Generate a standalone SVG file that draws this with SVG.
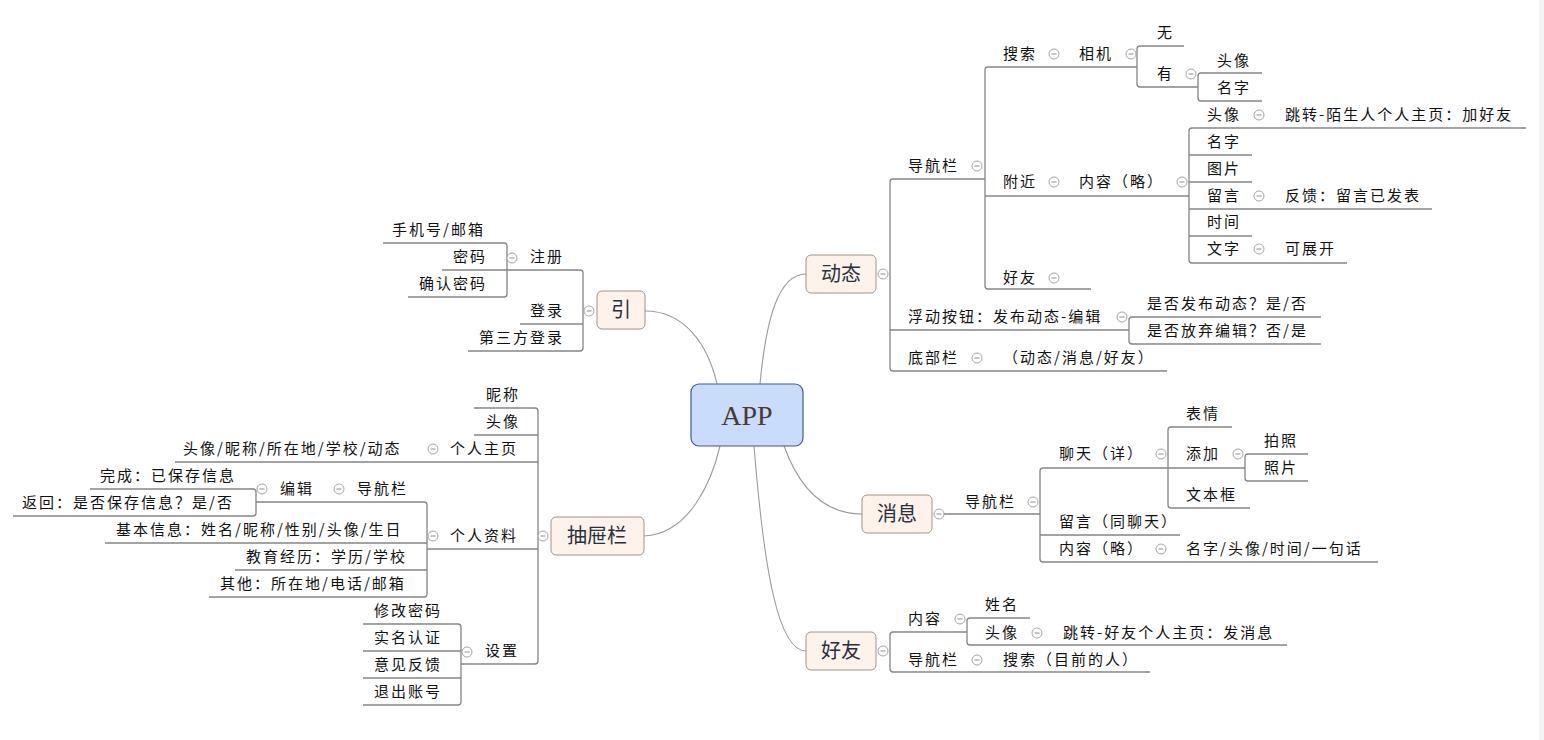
<svg xmlns="http://www.w3.org/2000/svg" xmlns:xlink="http://www.w3.org/1999/xlink" width="1544" height="740" viewBox="0 0 1544 740">
<style>
  .t { font-family: "Noto Sans CJK SC", "Liberation Sans", sans-serif; font-size: 15px; letter-spacing: 2px; fill: #111; }
  .k { font-family: "Noto Sans CJK SC", "Liberation Sans", sans-serif; font-size: 20px; fill: #2a2f3f; text-anchor: middle; }
  .root { font-family: "Liberation Serif", "Noto Sans CJK SC", serif; font-size: 28px; fill: #4a3a32; text-anchor: middle; }
  .box { fill: #fdf3ea; stroke: #a09486; stroke-width: 1; }
  .ln { fill: none; stroke: #858585; stroke-width: 1.3; }
  .cv { fill: none; stroke: #9a9a9a; stroke-width: 1.1; }
</style>
<defs>
  <g id="col">
    <circle r="5" fill="#fff" stroke="#a4a4a4" stroke-width="1"/>
    <path d="M-2.5,0H2.5" stroke="#8c8c8c" stroke-width="1"/>
  </g>
</defs>
<rect width="1544" height="740" fill="#fff"/>
<rect x="1539" y="0" width="5" height="740" fill="#f3f3f3"/>

<!-- connectors -->
<g id="connectors">
  <!-- curves from the root -->
  <path class="cv" d="M645,311 C685,311 708,345 717,384"/>
  <path class="cv" d="M760,384 C766,320 778,274 806,274"/>
  <path class="cv" d="M644,536 C690,534 712,480 720,446"/>
  <path class="cv" d="M784,446 C800,490 825,514 862,514"/>
  <path class="cv" d="M754,446 C764,570 778,651 806,651"/>

  <!-- 引 -->
  <path class="ln" d="M442,270 H580 Q583,270 583,273 V348 Q583,351 580,351 H468"/>
  <path class="ln" d="M583,324 H520"/>
  <path class="ln" d="M383,243 H504 Q507,243 507,246 V294 Q507,297 504,297 H408"/>

  <!-- 抽屉栏 -->
  <path class="ln" d="M474,408 H535 Q538,408 538,411 V661 Q538,664 535,664 H461"/>
  <path class="ln" d="M538,435 H474"/>
  <path class="ln" d="M538,462 H175"/>
  <path class="ln" d="M538,549 H427"/>
  <path class="ln" d="M256,502 H424 Q427,502 427,505 V594 Q427,597 424,597 H209"/>
  <path class="ln" d="M427,543 H105"/>
  <path class="ln" d="M427,570 H235"/>
  <path class="ln" d="M90,489 H253 Q256,489 256,492 V513 Q256,516 253,516 H13"/>
  <path class="ln" d="M363,624 H458 Q461,624 461,627 V702 Q461,705 458,705 H363"/>
  <path class="ln" d="M461,651 H363"/>
  <path class="ln" d="M461,678 H363"/>

  <!-- 动态 -->
  <path class="ln" d="M985,179 H893 Q890,179 890,182 V368 Q890,371 893,371 H1167"/>
  <path class="ln" d="M890,330 H1129"/>
  <path class="ln" d="M1137,67 H988 Q985,67 985,70 V286 Q985,289 988,289 H1091"/>
  <path class="ln" d="M985,196 H1189"/>
  <path class="ln" d="M1184,46 H1140 Q1137,46 1137,49 V84 Q1137,87 1140,87 H1198"/>
  <path class="ln" d="M1262,73 H1201 Q1198,73 1198,76 V98 Q1198,101 1201,101 H1262"/>
  <path class="ln" d="M1526,128 H1192 Q1189,128 1189,131 V260 Q1189,263 1192,263 H1347"/>
  <path class="ln" d="M1189,155 H1252"/>
  <path class="ln" d="M1189,182 H1252"/>
  <path class="ln" d="M1189,209 H1432"/>
  <path class="ln" d="M1189,236 H1252"/>
  <path class="ln" d="M1321,317 H1132 Q1129,317 1129,320 V341 Q1129,344 1132,344 H1321"/>

  <!-- 消息 -->
  <path class="ln" d="M944,514 H1040"/>
  <path class="ln" d="M1168,468 H1043 Q1040,468 1040,471 V559 Q1040,562 1043,562 H1378"/>
  <path class="ln" d="M1040,535 H1180"/>
  <path class="ln" d="M1232,427 H1171 Q1168,427 1168,430 V505 Q1168,508 1171,508 H1250"/>
  <path class="ln" d="M1168,468 H1245"/>
  <path class="ln" d="M1308,454 H1248 Q1245,454 1245,457 V478 Q1245,481 1248,481 H1308"/>

  <!-- 好友 -->
  <path class="ln" d="M967,632 H893 Q890,632 890,635 V669 Q890,672 893,672 H1150"/>
  <path class="ln" d="M1030,618 H970 Q967,618 967,621 V642 Q967,645 970,645 H1287"/>
</g>

<!-- root -->
<g id="app">
  <rect x="691" y="384" width="112" height="62" rx="8" fill="#c9dcfb" stroke="#3d5a92" stroke-width="1.2"/>
  <text class="root" x="747" y="425">APP</text>
</g>

<!-- 引 -->
<g id="yin">
  <rect class="box" x="597" y="291" width="48" height="38" rx="5"/>
  <text class="k" x="621" y="317">引</text>
  <use href="#col" x="589" y="311"/>
</g>
<g id="yin-register">
  <text class="t" x="530" y="262">注册</text>
  <use href="#col" x="512" y="258"/>
</g>
<g id="yin-register-account"><text class="t" x="392" y="235">手机号/邮箱</text></g>
<g id="yin-register-pwd"><text class="t" x="453" y="262">密码</text></g>
<g id="yin-register-confirm"><text class="t" x="419" y="289">确认密码</text></g>
<g id="yin-login"><text class="t" x="530" y="316">登录</text></g>
<g id="yin-third"><text class="t" x="479" y="343">第三方登录</text></g>

<!-- 抽屉栏 -->
<g id="drawer">
  <rect class="box" x="551" y="517" width="93" height="38" rx="5"/>
  <text class="k" x="597" y="543">抽屉栏</text>
  <use href="#col" x="543" y="536"/>
</g>
<g id="drawer-nick"><text class="t" x="486" y="400">昵称</text></g>
<g id="drawer-avatar"><text class="t" x="486" y="427">头像</text></g>
<g id="drawer-home">
  <text class="t" x="450" y="454">个人主页</text>
  <use href="#col" x="433" y="449"/>
  <text class="t" x="183" y="454">头像/昵称/所在地/学校/动态</text>
</g>
<g id="drawer-profile">
  <text class="t" x="450" y="541">个人资料</text>
  <use href="#col" x="433" y="536"/>
</g>
<g id="profile-nav">
  <text class="t" x="357" y="494">导航栏</text>
  <use href="#col" x="339" y="489"/>
</g>
<g id="profile-edit">
  <text class="t" x="280" y="494">编辑</text>
  <use href="#col" x="262" y="489"/>
</g>
<g id="edit-done"><text class="t" x="100" y="481">完成：已保存信息</text></g>
<g id="edit-back"><text class="t" x="22" y="508">返回：是否保存信息？是/否</text></g>
<g id="profile-basic"><text class="t" x="116" y="535">基本信息：姓名/昵称/性别/头像/生日</text></g>
<g id="profile-edu"><text class="t" x="246" y="562">教育经历：学历/学校</text></g>
<g id="profile-other"><text class="t" x="220" y="589">其他：所在地/电话/邮箱</text></g>
<g id="drawer-settings">
  <text class="t" x="485" y="656">设置</text>
  <use href="#col" x="467" y="652"/>
</g>
<g id="settings-pwd"><text class="t" x="374" y="616">修改密码</text></g>
<g id="settings-realname"><text class="t" x="374" y="643">实名认证</text></g>
<g id="settings-feedback"><text class="t" x="374" y="670">意见反馈</text></g>
<g id="settings-logout"><text class="t" x="374" y="697">退出账号</text></g>

<!-- 动态 -->
<g id="feed">
  <rect class="box" x="806" y="255" width="70" height="38" rx="5"/>
  <text class="k" x="841" y="281">动态</text>
  <use href="#col" x="883" y="274"/>
</g>
<g id="feed-nav">
  <text class="t" x="908" y="171">导航栏</text>
  <use href="#col" x="977" y="166"/>
</g>
<g id="feed-search">
  <text class="t" x="1003" y="59">搜索</text>
  <use href="#col" x="1054" y="54"/>
</g>
<g id="search-camera">
  <text class="t" x="1079" y="59">相机</text>
  <use href="#col" x="1131" y="54"/>
</g>
<g id="camera-none"><text class="t" x="1157" y="38">无</text></g>
<g id="camera-has">
  <text class="t" x="1157" y="79">有</text>
  <use href="#col" x="1191" y="74"/>
</g>
<g id="has-avatar"><text class="t" x="1217" y="66">头像</text></g>
<g id="has-name"><text class="t" x="1217" y="93">名字</text></g>
<g id="feed-nearby">
  <text class="t" x="1003" y="187">附近</text>
  <use href="#col" x="1054" y="182"/>
</g>
<g id="nearby-content">
  <text class="t" x="1079" y="187">内容（略）</text>
  <use href="#col" x="1182" y="182"/>
</g>
<g id="content-avatar">
  <text class="t" x="1207" y="120">头像</text>
  <use href="#col" x="1259" y="115"/>
  <text class="t" x="1285" y="120">跳转-陌生人个人主页：加好友</text>
</g>
<g id="content-name"><text class="t" x="1207" y="147">名字</text></g>
<g id="content-image"><text class="t" x="1207" y="174">图片</text></g>
<g id="content-comment">
  <text class="t" x="1207" y="201">留言</text>
  <use href="#col" x="1259" y="196"/>
  <text class="t" x="1285" y="201">反馈：留言已发表</text>
</g>
<g id="content-time"><text class="t" x="1207" y="227">时间</text></g>
<g id="content-text">
  <text class="t" x="1207" y="254">文字</text>
  <use href="#col" x="1259" y="249"/>
  <text class="t" x="1285" y="254">可展开</text>
</g>
<g id="feed-friends">
  <text class="t" x="1003" y="283">好友</text>
  <use href="#col" x="1054" y="278"/>
</g>
<g id="feed-fab">
  <text class="t" x="908" y="322">浮动按钮：发布动态-编辑</text>
  <use href="#col" x="1122" y="317"/>
</g>
<g id="fab-publish"><text class="t" x="1147" y="309">是否发布动态？是/否</text></g>
<g id="fab-discard"><text class="t" x="1147" y="336">是否放弃编辑？否/是</text></g>
<g id="feed-bottom">
  <text class="t" x="908" y="363">底部栏</text>
  <use href="#col" x="977" y="358"/>
  <text class="t" x="1003" y="363">（动态/消息/好友）</text>
</g>

<!-- 消息 -->
<g id="msg">
  <rect class="box" x="862" y="495" width="70" height="38" rx="5"/>
  <text class="k" x="897" y="521">消息</text>
  <use href="#col" x="939" y="514"/>
</g>
<g id="msg-nav">
  <text class="t" x="965" y="507">导航栏</text>
  <use href="#col" x="1033" y="502"/>
</g>
<g id="msg-chat">
  <text class="t" x="1059" y="459">聊天（详）</text>
  <use href="#col" x="1161" y="454"/>
</g>
<g id="chat-emoji"><text class="t" x="1186" y="419">表情</text></g>
<g id="chat-add">
  <text class="t" x="1186" y="459">添加</text>
  <use href="#col" x="1238" y="454"/>
</g>
<g id="add-camera"><text class="t" x="1264" y="446">拍照</text></g>
<g id="add-photo"><text class="t" x="1264" y="473">照片</text></g>
<g id="chat-input"><text class="t" x="1186" y="500">文本框</text></g>
<g id="msg-comment"><text class="t" x="1059" y="527">留言（同聊天）</text></g>
<g id="msg-content">
  <text class="t" x="1059" y="554">内容（略）</text>
  <use href="#col" x="1161" y="549"/>
  <text class="t" x="1186" y="554">名字/头像/时间/一句话</text>
</g>

<!-- 好友 -->
<g id="friends">
  <rect class="box" x="806" y="632" width="70" height="38" rx="5"/>
  <text class="k" x="841" y="658">好友</text>
  <use href="#col" x="883" y="651"/>
</g>
<g id="friends-content">
  <text class="t" x="908" y="624">内容</text>
  <use href="#col" x="960" y="619"/>
</g>
<g id="friends-name"><text class="t" x="985" y="610">姓名</text></g>
<g id="friends-avatar">
  <text class="t" x="985" y="638">头像</text>
  <use href="#col" x="1037" y="633"/>
  <text class="t" x="1063" y="638">跳转-好友个人主页：发消息</text>
</g>
<g id="friends-nav">
  <text class="t" x="908" y="665">导航栏</text>
  <use href="#col" x="977" y="660"/>
  <text class="t" x="1003" y="665">搜索（目前的人）</text>
</g>
</svg>
